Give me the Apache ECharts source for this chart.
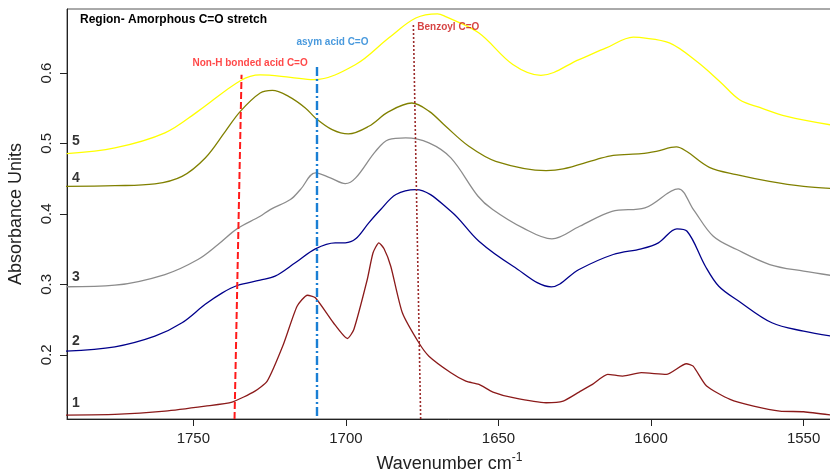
<!DOCTYPE html>
<html>
<head>
<meta charset="utf-8">
<script src="https://cdn.jsdelivr.net/npm/echarts@6/dist/echarts.min.js"></script>
<style>
  html, body { margin: 0; padding: 0; background: #fff; }
  #chart { width: 830px; height: 473px; }
</style>
</head>
<body>
<div id="chart"></div>
<script>
// FTIR absorbance spectra, carbonyl region: [wavenumber (cm-1), absorbance]
const trace1 = [
  [1792, 0.1143], [1775.7, 0.1153], [1759.3, 0.1200], [1746.1, 0.1271], [1737.3, 0.1328],
  [1729.8, 0.1484], [1725.8, 0.1626], [1720.5, 0.2146], [1716.0, 0.2689], [1712.6, 0.2845],
  [1710.0, 0.2809], [1704.1, 0.2454], [1699.5, 0.2231], [1697.4, 0.2359], [1693.0, 0.3068],
  [1691.1, 0.3447], [1689.2, 0.3589], [1687.5, 0.3504], [1685.3, 0.3257], [1681.5, 0.2596],
  [1676.1, 0.2170], [1672.8, 0.1980], [1665.6, 0.1745], [1660.7, 0.1626], [1656.4, 0.1579],
  [1651.8, 0.1470], [1645.2, 0.1390], [1634.4, 0.1319], [1628.8, 0.1342], [1623.6, 0.1470],
  [1619.2, 0.1579], [1614.2, 0.1721], [1609.3, 0.1697], [1603.2, 0.1745], [1595.0, 0.1721],
  [1588.4, 0.1872], [1586.2, 0.1838], [1581.8, 0.1555], [1574.1, 0.1366], [1566.4, 0.1271],
  [1557.8, 0.1200], [1550.0, 0.1191], [1540.7, 0.1143]
];
const trace2 = [
  [1792, 0.2051], [1775.7, 0.2113], [1762.6, 0.2264], [1753.7, 0.2454], [1746.1, 0.2716],
  [1740.5, 0.2879], [1735.6, 0.2983], [1728.1, 0.3058], [1723.2, 0.3115], [1716.6, 0.3305],
  [1710.0, 0.3504], [1703.5, 0.3589], [1700.2, 0.3589], [1696.8, 0.3645], [1692.5, 0.3872],
  [1688.6, 0.4061], [1683.6, 0.4274], [1677.1, 0.4345], [1665.6, 0.4037], [1656.4, 0.3611],
  [1645.2, 0.3257], [1632.7, 0.2964], [1623.6, 0.3210], [1612.4, 0.3423], [1603.2, 0.3504],
  [1597.6, 0.3589], [1591.5, 0.3787], [1588.2, 0.3753], [1582.2, 0.3257], [1577.8, 0.2973],
  [1571.2, 0.2760], [1560.4, 0.2454], [1550.0, 0.2335], [1540.7, 0.2264]
];
const trace3 = [
  [1791.5, 0.2965], [1775.7, 0.2987], [1759.3, 0.3139], [1748.5, 0.3352], [1741.9, 0.3565],
  [1735.7, 0.3787], [1728.1, 0.3966], [1724.8, 0.4061], [1718.2, 0.4203], [1714.9, 0.4346],
  [1710.0, 0.4582], [1705.1, 0.4511], [1700.2, 0.4430], [1696.8, 0.4511], [1690.3, 0.4888],
  [1686.0, 0.5054], [1680.4, 0.5078], [1672.8, 0.5007], [1665.6, 0.4794], [1656.7, 0.4250],
  [1651.9, 0.4061], [1642.0, 0.3800], [1632.5, 0.3645], [1623.4, 0.3824], [1612.8, 0.4037],
  [1602.0, 0.4085], [1591.1, 0.4355], [1586.1, 0.4061], [1579.6, 0.3682], [1571.9, 0.3494],
  [1561.1, 0.3281], [1550.0, 0.3186], [1540.7, 0.3125]
];
const trace4 = [
  [1792, 0.4391], [1775.7, 0.4400], [1762.6, 0.4426], [1753.7, 0.4533], [1746.1, 0.4794],
  [1739.5, 0.5172], [1734.6, 0.5455], [1728.1, 0.5716], [1724.1, 0.5753], [1718.8, 0.5668],
  [1713.3, 0.5504], [1710.0, 0.5362], [1704.5, 0.5196], [1699.2, 0.5135], [1692.5, 0.5243],
  [1686.1, 0.5447], [1678.4, 0.5574], [1672.7, 0.5455], [1667.3, 0.5243], [1659.7, 0.4959],
  [1650.9, 0.4746], [1634.4, 0.4614], [1628.8, 0.4638], [1618.0, 0.4770], [1612.4, 0.4831],
  [1603.2, 0.4855], [1598.3, 0.4888], [1591.7, 0.4950], [1588.4, 0.4888], [1580.9, 0.4661],
  [1572.0, 0.4557], [1561.2, 0.4462], [1550.0, 0.4390], [1540.7, 0.4359]
];
const trace5 = [
  [1791.5, 0.4855], [1775.7, 0.4936], [1759.3, 0.5150], [1748.5, 0.5455], [1734.6, 0.5890],
  [1728.1, 0.5972], [1718.2, 0.5938], [1710.6, 0.5905], [1696.8, 0.6120], [1685.9, 0.6500],
  [1677.1, 0.6780], [1670.0, 0.6840], [1667.3, 0.6800], [1656.5, 0.6570], [1645.3, 0.6120],
  [1636.1, 0.5966], [1623.6, 0.6190], [1614.7, 0.6355], [1605.8, 0.6510], [1603.8, 0.6505],
  [1594.0, 0.6426], [1585.1, 0.6165], [1577.5, 0.5880], [1571.0, 0.5620], [1564.4, 0.5510],
  [1555.5, 0.5384], [1540.7, 0.5260]
];

const traces = [trace1, trace2, trace3, trace4, trace5];
const traceNames = ['1', '2', '3', '4', '5'];
const traceColors = ['#8b1a1a', '#00008b', '#8c8c8c', '#808000', '#ffff00'];
// sample numbers written at the left end of each spectrum
const tagWavenumber = 1788.5;
const tagAbsorbance = [0.131, 0.219, 0.31, 0.45, 0.503];

// band assignments: [wavenumber, absorbance] at the bottom and top of each marker line
const bandNames = ['Non-H bonded acid C=O', 'asym acid C=O', 'Benzoyl C=O'];
const bandLines = [
  [[1736.5, 0.1088], [1734.2, 0.5976]],
  [[1709.7, 0.1129], [1709.7, 0.609]],
  [[1675.5, 0.1088], [1677.9, 0.671]]
];
const bandLabelAt = [[1731.4, 0.6132], [1704.4, 0.643], [1676.6, 0.6652]];

const xTicks = [1550, 1600, 1650, 1700, 1750];
const yTicks = [0.2, 0.3, 0.4, 0.5, 0.6];
const xRange = [1540.7, 1791.4];
const yRange = [0.1088, 0.6908];

const FONT = '"Liberation Sans", Arial, Helvetica, sans-serif';

const bandStyles = [
  { color: '#ff1a1a', type: [7, 3], width: 2 },
  { color: '#1a7fd4', type: [9, 3, 2, 3], width: 2.4 },
  { color: '#9b2b2b', type: [2, 2], width: 1.6 }
];
const bandLabelStyles = [
  { color: '#ff1a1a', align: 'center' },
  { color: '#1a7fd4', align: 'center' },
  { color: '#cc1414', align: 'left' }
];

const chart = echarts.init(document.getElementById('chart'), null, { renderer: 'canvas' });

const lineSeries = traces.map((t, i) => ({
  type: 'line',
  name: traceNames[i],
  data: t,
  showSymbol: false,
  smooth: i === 0 ? 0.2 : 0.35,
  lineStyle: { color: traceColors[i], width: 1.3 },
  itemStyle: { color: traceColors[i] },
  z: 3,
  animation: false
}));

const tagSeries = {
  type: 'scatter',
  symbolSize: 0,
  silent: true,
  animation: false,
  data: traceNames.map((n, i) => ({ name: n, value: [tagWavenumber, tagAbsorbance[i]] })),
  label: {
    show: true, position: 'inside', formatter: '{b}',
    fontFamily: FONT, fontSize: 14, fontWeight: 'bold', color: '#000'
  },
  z: 5
};

const bandSeries = {
  type: 'scatter',
  symbolSize: 0,
  silent: true,
  animation: false,
  data: bandNames.map((n, i) => ({
    name: n,
    value: bandLabelAt[i],
    label: { color: bandLabelStyles[i].color, align: bandLabelStyles[i].align }
  })),
  label: {
    show: true, position: 'inside', formatter: '{b}',
    fontFamily: FONT, fontSize: 10, fontWeight: 'bold'
  },
  markLine: {
    silent: true,
    symbol: ['none', 'none'],
    label: { show: false },
    animation: false,
    data: bandLines.map((seg, i) => [
      { coord: seg[0], lineStyle: bandStyles[i] },
      { coord: seg[1] }
    ])
  },
  z: 4
};

chart.setOption({
  animation: false,
  backgroundColor: '#fff',
  title: {
    text: 'Region- Amorphous C=O stretch',
    left: 80, top: 14, padding: 0,
    textStyle: { fontFamily: FONT, fontSize: 12, fontWeight: 'bold', color: '#000' }
  },
  grid: {
    left: 67, right: -2, top: 9, bottom: 54,
    outerBoundsMode: 'none',
    containLabel: false,
    show: true, borderColor: '#555', borderWidth: 1, backgroundColor: 'transparent'
  },
  xAxis: {
    type: 'value',
    min: xRange[0], max: xRange[1],
    inverse: true,
    axisLine: { show: true, onZero: false, lineStyle: { color: '#222', width: 1 } },
    axisTick: { show: true, length: 7, customValues: xTicks, lineStyle: { color: '#222' } },
    axisLabel: {
      customValues: xTicks, fontFamily: FONT, fontSize: 15, color: '#222', margin: 12,
      formatter: v => String(Math.round(v))
    },
    splitLine: { show: false },
    name: '{n|Wavenumber cm}{s|-1}',
    nameLocation: 'middle',
    nameGap: 33,
    nameTextStyle: {
      fontFamily: FONT, color: '#222',
      rich: {
        n: { fontFamily: FONT, fontSize: 18, color: '#222' },
        s: { fontFamily: FONT, fontSize: 12, color: '#222', padding: [0, 0, 12, 0] }
      }
    }
  },
  yAxis: {
    type: 'value',
    min: yRange[0], max: yRange[1],
    axisLine: { show: true, onZero: false, lineStyle: { color: '#222', width: 1 } },
    axisTick: { show: true, length: 7, customValues: yTicks, lineStyle: { color: '#222' } },
    axisLabel: {
      customValues: yTicks, rotate: 90, margin: 13,
      fontFamily: FONT, fontSize: 15, color: '#222',
      formatter: v => v.toFixed(1)
    },
    splitLine: { show: false },
    name: 'Absorbance Units',
    nameLocation: 'middle',
    nameGap: 42,
    nameTextStyle: { fontFamily: FONT, fontSize: 18, color: '#222' }
  },
  series: [...lineSeries, tagSeries, bandSeries]
});
</script>
</body>
</html>
